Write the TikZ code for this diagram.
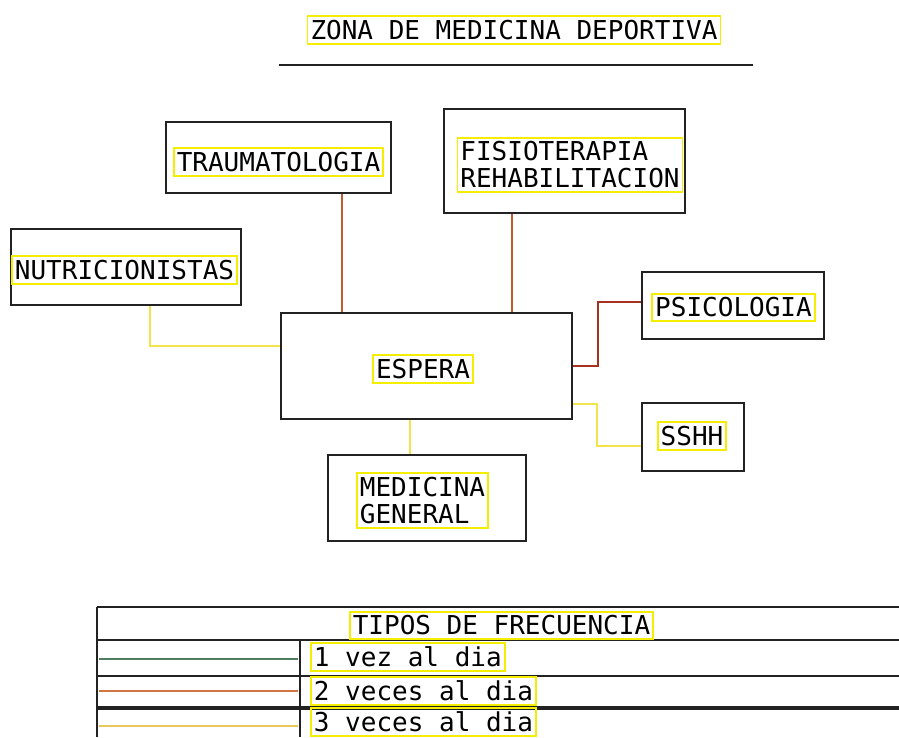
\documentclass[tikz,border=0pt]{standalone}
\usepackage{fontspec}
\newfontfamily\cadfont{DejaVu Sans Mono}
\usetikzlibrary{arrows.meta}
\definecolor{labely}{HTML}{F5EE00}
\definecolor{boxk}{HTML}{222222}
\definecolor{twicec}{HTML}{C4582E}
\definecolor{twicedark}{HTML}{A8301F}
\definecolor{thricec}{HTML}{F2E44A}
\definecolor{oncec}{HTML}{4F7D60}
\definecolor{legorange}{HTML}{D27545}
\definecolor{legyellow}{HTML}{E8C85A}

\begin{document}
\begin{tikzpicture}[x=1pt,y=-1pt,room/.style={rectangle,draw=boxk,line width=2.2pt,fill=white,inner sep=0pt},tag/.style={draw=labely,line width=1.8pt,inner xsep=3pt,inner ysep=4pt,align=left,font=\cadfont\fontsize{26}{27}\selectfont},twice/.style={draw=twicec,line width=1.4pt},thrice/.style={draw=thricec,line width=1.4pt},rule/.style={draw=boxk,line width=1.6pt}]
\fill[white] (0,0) rectangle (899,737);
\useasboundingbox (0,0) rectangle (899,737);
% title
\node[tag] (title) at (514,30) {ZONA DE MEDICINA DEPORTIVA};
\draw[draw=boxk,line width=2.2pt] (279,65) -- (753,65);
% rooms
\coordinate (T) at (278.5,157.5);
\coordinate (N) at (126,267);
\coordinate (F) at (564.5,161);
\coordinate (P) at (733,305.5);
\coordinate (S) at (693,437);
\coordinate (E) at (426.5,366);
\coordinate (M) at (427,498);
\node[room,minimum width=225pt,minimum height=71pt] (trauma) at (T) {};
\node[tag] (traumaT) at (278.5,162) {TRAUMATOLOGIA};
\node[room,minimum width=230pt,minimum height=76pt] (nutri) at (N) {};
\node[tag] (nutriT) at (124.5,270) {NUTRICIONISTAS};
\node[room,minimum width=241pt,minimum height=104pt] (fisio) at (F) {};
\node[tag] (fisioT) at (570,165) {FISIOTERAPIA\\REHABILITACION};
\node[room,minimum width=182pt,minimum height=67pt] (psico) at (P) {};
\node[tag] (psicoT) at (733.5,307.5) {PSICOLOGIA};
\node[room,minimum width=102pt,minimum height=68pt] (sshh) at (S) {};
\node[tag] (sshhT) at (692,436) {SSHH};
\node[room,minimum width=291pt,minimum height=106pt] (espera) at (E) {};
\node[tag] (esperaT) at (423,369) {ESPERA};
\node[room,minimum width=198pt,minimum height=86pt] (medic) at (M) {};
\node[tag] (medicT) at (422.5,500.5) {MEDICINA\\GENERAL};
% connectors
\draw[twice] (trauma.south -| 342,0) -- (espera.north -| 342,0);
\draw[twice] (fisio.south -| 512,0) -- (espera.north -| 512,0);
\draw[draw=twicedark,line width=1.4pt] (espera.east |- 0,366) -| (598,302) -- (psico.west |- 0,302);
\draw[thrice] (nutri.south -| 150,0) |- (espera.west |- 0,346);
\draw[thrice] (espera.east |- 0,404) -| (597,446) -- (sshh.west |- 0,446);
\draw[thrice] (espera.south -| 410,0) -- (medic.north -| 410,0);
% legend table
\draw[rule,line width=1.2pt] (97,607) -- (899,607);
\draw[rule] (97,640) -- (899,640);
\draw[rule,line width=2.2pt] (97,676) -- (899,676);
\draw[rule,line width=3.2pt] (97,708) -- (899,708);
\draw[rule] (97,607) -- (97,737);
\draw[rule] (300,640) -- (300,737);
\node[tag] (legT) at (501.5,625.5) {TIPOS DE FRECUENCIA};
\draw[draw=oncec,line width=1.8pt] (99,659) -- (298,659);
\node[tag,anchor=west] (leg1) at (310,657) {1 vez al dia};
\draw[draw=legorange,line width=1.8pt] (99,691) -- (298,691);
\node[tag,anchor=west] (leg2) at (310,691) {2 veces al dia};
\draw[draw=legyellow,line width=1.8pt] (99,726) -- (298,726);
\node[tag,anchor=west] (leg3) at (310,722) {3 veces al dia};
\end{tikzpicture}
\end{document}
